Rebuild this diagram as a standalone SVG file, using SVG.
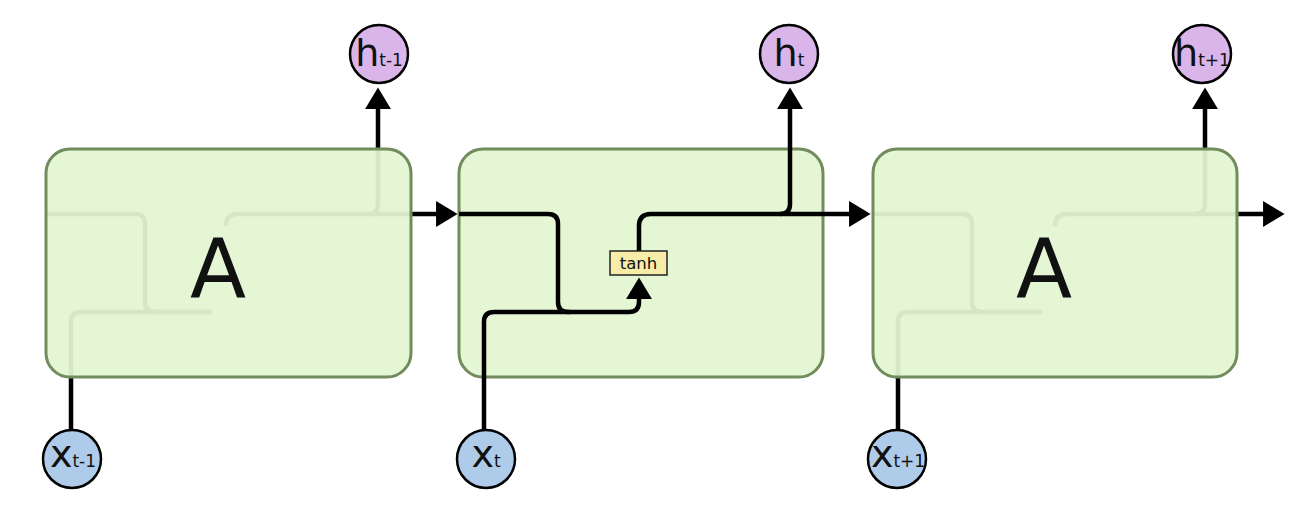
<svg xmlns="http://www.w3.org/2000/svg" width="1316" height="510" viewBox="0 0 1316 510">
<style>
.cell{fill:#e2f5d0;fill-opacity:0.94;stroke:#728c5d;stroke-width:3}
.wire{fill:none;stroke:#000;stroke-width:4.5}
.arr{marker-end:url(#ah)}
.hc{fill:#d9b5ea;stroke:#000;stroke-width:2.5}
.xc{fill:#aecbe9;stroke:#000;stroke-width:2.5}
.lab{font-family:"DejaVu Sans",sans-serif;fill:#111;text-anchor:middle}
.big{font-size:82px}
.v{font-size:38px}
.s{font-size:17px}
.tanhbox{fill:#f7eca8;stroke:#222;stroke-width:1.5}
.tanh{font-family:"DejaVu Sans",sans-serif;font-size:16.5px;fill:#111;text-anchor:middle}
</style>
<defs>
<marker id="ah" markerUnits="userSpaceOnUse" markerWidth="24" markerHeight="28" viewBox="0 -13 22 26" refX="12" refY="0" orient="auto">
<path d="M0,-12 L20,0 L0,12 z" fill="#000"/>
</marker>
</defs>
<g id="cell-t">
<rect class="cell" x="459" y="149" width="364" height="228" rx="24" ry="24"/>
</g>
<g id="connectors">
<path class="wire" d="M45,214 H135 Q145,214 145,224 V302 Q145,312 155,312 H212"/>
<path class="wire" d="M71,440 V322 Q71,312 81,312 H212"/>
<path class="wire arr" d="M226,226 Q226,214 238,214 H449"/>
<path class="wire arr" d="M368,214 Q378,214 378,204 V96"/>
<path class="wire arr" d="M459,214 H548 Q558,214 558,224 V302 Q558,312 568,312 H629 Q639,312 639,302 V286"/>
<path class="wire" d="M484,440 V322 Q484,312 494,312 H570"/>
<path class="wire arr" d="M639,251 V226 Q639,214 651,214 H862"/>
<path class="wire arr" d="M780,214 Q790,214 790,204 V96"/>
<path class="wire" d="M872,214 H962 Q972,214 972,224 V302 Q972,312 982,312 H1042"/>
<path class="wire" d="M898,440 V322 Q898,312 908,312 H1042"/>
<path class="wire arr" d="M1055,226 Q1055,214 1067,214 H1276"/>
<path class="wire arr" d="M1195,214 Q1205,214 1205,204 V96"/>
</g>
<g id="tanh">
<rect class="tanhbox" x="610" y="251" width="57" height="24"/>
<text class="tanh" x="638.5" y="269">tanh</text>
</g>
<g id="cell-t-1">
<rect class="cell" x="46" y="149" width="365" height="228" rx="24" ry="24"/>
<text class="lab big" x="218" y="297">A</text>
</g>
<g id="cell-t+1">
<rect class="cell" x="873" y="149" width="364" height="228" rx="24" ry="24"/>
<text class="lab big" x="1044" y="297">A</text>
</g>
<g id="h-t-1">
<circle class="hc" cx="379" cy="54" r="29"/>
<text class="lab" x="379" y="66"><tspan class="v">h</tspan><tspan class="s">t-1</tspan></text>
</g>
<g id="h-t">
<circle class="hc" cx="789" cy="54" r="29"/>
<text class="lab" x="789" y="66"><tspan class="v">h</tspan><tspan class="s">t</tspan></text>
</g>
<g id="h-t+1">
<circle class="hc" cx="1202" cy="54" r="29"/>
<text class="lab" x="1202" y="66"><tspan class="v">h</tspan><tspan class="s">t+1</tspan></text>
</g>
<g id="x-t-1">
<circle class="xc" cx="72" cy="459" r="29"/>
<text class="lab" x="73" y="467"><tspan class="v">x</tspan><tspan class="s">t-1</tspan></text>
</g>
<g id="x-t">
<circle class="xc" cx="486" cy="459" r="29"/>
<text class="lab" x="486" y="467"><tspan class="v">x</tspan><tspan class="s">t</tspan></text>
</g>
<g id="x-t+1">
<circle class="xc" cx="897" cy="459" r="29"/>
<text class="lab" x="898" y="467"><tspan class="v">x</tspan><tspan class="s">t+1</tspan></text>
</g>
</svg>
